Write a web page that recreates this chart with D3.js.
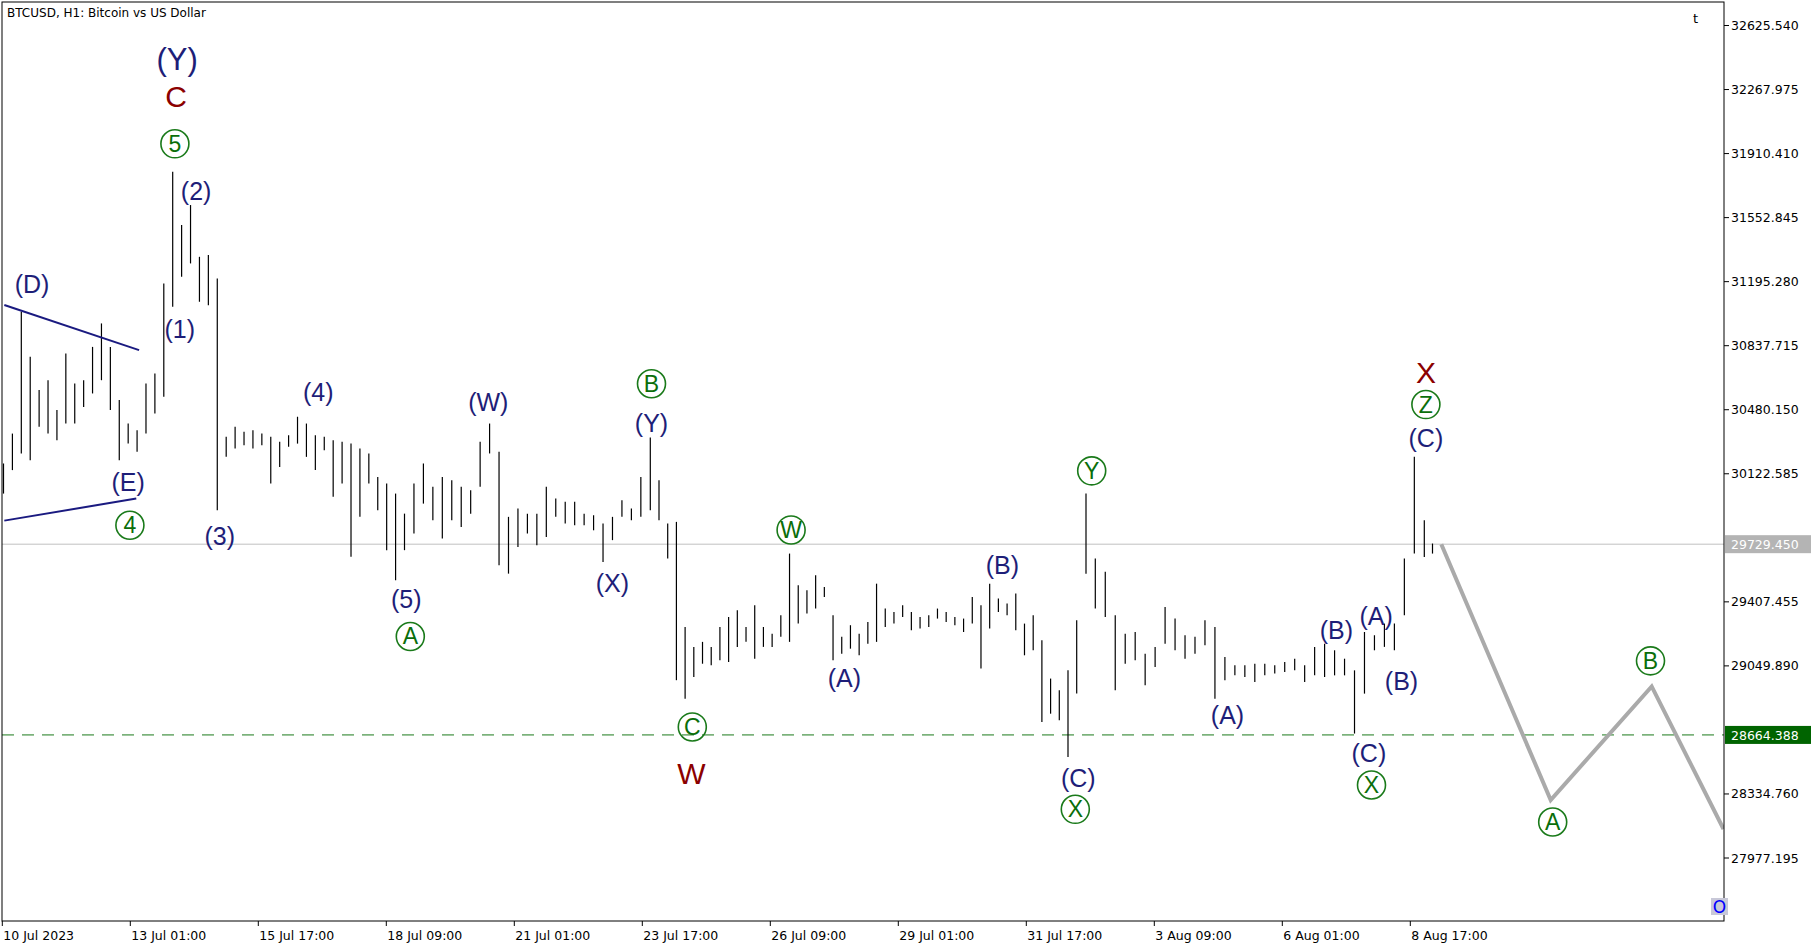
<!DOCTYPE html>
<html><head><meta charset="utf-8">
<script src="https://cdn.jsdelivr.net/npm/d3@7"></script>
<style>body{margin:0;background:#fff}svg{display:block}</style>
</head><body>
<script>
const barHigh=[30180,30347,31027,30776,30590,30645,30478,30794,30627,30645,30831,30962,30831,30534,30403,30366,30627,30682,31185,31809,31511,31623,31334,31344,31213,30329,30385,30357,30366,30347,30329,30301,30338,30441,30403,30338,30329,30310,30301,30291,30264,30236,30105,30068,30012,29900,30068,30180,30050,30105,30087,30050,30031,30301,30403,30245,29882,29928,29900,29900,30050,
29984,29966,29966,29900,29891,29845,29882,29975,29929,30105,30325,30087,29845,29854,29267,29156,29184,29156,29267,29323,29360,29267,29388,29267,29230,29333,29677,29500,29472,29556,29491,29333,29212,29277,29230,29295,29509,29370,29351,29388,29351,29323,29333,29370,29351,29323,29314,29435,29388,29509,29426,29398,29454,29286,29333,29193,28979,28914,29025,29305,
30012,29649,29575,29333,29230,29239,29118,29156,29379,29314,29221,29212,29305,29267,29100,29053,29053,29062,29062,29053,29072,29090,29053,29156,29174,29137,29090,29025,29239,29221,29286,29286,29649,30217,29863,29733];
const barLow=[30012,30143,30236,30198,30385,30347,30310,30403,30403,30496,30571,30645,30478,30198,30291,30245,30347,30459,30552,31055,31222,31297,31083,31064,29919,30217,30264,30282,30264,30282,30068,30161,30273,30291,30217,30143,30254,29994,30068,29659,29882,30068,29919,29696,29528,29696,29789,29956,29863,29761,29863,29826,29900,30050,30236,29612,29565,29714,29789,29724,29770,
29882,29845,29835,29835,29807,29630,29752,29882,29863,29882,29919,29863,29649,28970,28867,28988,29062,29053,29081,29072,29156,29184,29090,29156,29156,29212,29184,29286,29342,29370,29435,29081,29118,29146,29109,29174,29184,29267,29286,29323,29249,29258,29267,29314,29295,29277,29239,29286,29035,29258,29351,29333,29249,29109,29137,28737,28783,28746,28541,28895,
29565,29370,29323,28914,29062,29081,28942,29044,29174,29137,29090,29118,29165,28867,28970,28997,28988,28960,28997,29007,29016,29025,28960,28997,28988,28997,28997,28672,28895,29137,29156,29137,29333,29677,29658,29677];
// time (hours since 10 Jul 09:00) of key bars (swing points)
const anchorBar=[0,19,45,71,120,122,155,157];
const anchorHour=[0.6,85.2,201.1,324,537.2,546.5,711,719.2];
const lastPrice=29729.450, levelPrice=28664.388;
const priceTicks=[32625.540,32267.975,31910.410,31552.845,31195.280,30837.715,30480.150,30122.585,29765.020,29407.455,29049.890,28692.325,28334.760,27977.195];
const timeTicks=["10 Jul 2023","13 Jul 01:00","15 Jul 17:00","18 Jul 09:00","21 Jul 01:00","23 Jul 17:00","26 Jul 09:00","29 Jul 01:00","31 Jul 17:00","3 Aug 09:00","6 Aug 01:00","8 Aug 17:00"];
const timeTickHour=[0,64,128,192,256,320,384,448,512,576,640,704];
const projHour=[719.5,774.2,824.7,860.6], projPrice=[29729,28301,28935,28139];
const triUpper={h:[1,68.4],price:[31065,30813]}, triLower={h:[1,67],price:[29861,29984]};
const labels=[["(Y)",87.4,32438,"n2"],["C",86.9,32231,"r"],["5",86.3,31965,"c"],["(2)",96.9,31700,"n"],["(D)",14.9,31182,"n"],["(1)",88.7,30929,"n"],["(E)",62.9,30075,"n"],["4",63.8,29835,"c"],["(3)",108.7,29777,"n"],["(4)",158,30580,"n"],["(W)",243,30522,"n"],["(5)",202,29421,"n"],["A",204,29214,"c"],["B",324.6,30625,"c"],["(Y)",324.6,30405,"n"],["(X)",305,29511,"n"],["W",394.4,29809,"c"],["C",345,28709,"c"],["W",344.6,28450,"r"],["(A)",421,28981,"n"],["(B)",500,29615,"n"],["Y",544.7,30139,"c"],["(C)",538,28424,"n"],["X",536.5,28249,"c"],["(A)",612.6,28773,"n"],["(B)",667,29253,"n"],["(A)",686.9,29330,"n"],["(B)",699.6,28968,"n"],["(C)",683.3,28566,"n"],["X",684.6,28385,"c"],["(C)",711.8,30321,"n"],["Z",711.8,30509,"c"],["X",711.8,30690,"r"],["B",824.1,29078,"c"],["A",775.2,28178,"c"]];

const W=1818,H=948,L=2,T=2,R=1724,B=921;
const barTime=d3.scaleLinear().domain(anchorBar).range(anchorHour);
const svg=d3.select("body").append("svg").attr("width",W).attr("height",H);
svg.append("clipPath").attr("id","clp").append("rect").attr("x",L).attr("y",T).attr("width",R-L).attr("height",B-T);
const x=d3.scaleLinear().domain([0,860.6]).range([2.3,1723.5]);
const y=d3.scaleLinear().domain([27977.195,32625.54]).range([858,25.5]);
const g=svg.append("g").attr("clip-path","url(#clp)");
g.append("line").attr("x1",L).attr("x2",R).attr("y1",y(lastPrice)).attr("y2",y(lastPrice)).attr("stroke","#c0c0c0");
g.append("line").attr("x1",L).attr("x2",R).attr("y1",y(levelPrice)).attr("y2",y(levelPrice)).attr("stroke","#1a7a1a").attr("stroke-dasharray","12,8");
g.selectAll(".bar").data(barHigh).join("line").attr("x1",(d,i)=>x(barTime(i))).attr("x2",(d,i)=>x(barTime(i)))
 .attr("y1",d=>y(d)).attr("y2",(d,i)=>y(barLow[i])).attr("stroke","#000").attr("stroke-width",1.2);
[triUpper,triLower].forEach(t=>g.append("line").attr("x1",x(t.h[0])).attr("x2",x(t.h[1])).attr("y1",y(t.price[0])).attr("y2",y(t.price[1])).attr("stroke","#1a1a80").attr("stroke-width",2));
g.append("path").attr("d",d3.line()(projHour.map((v,i)=>[x(v),y(projPrice[i])]))).attr("fill","none").attr("stroke","#aaaaaa").attr("stroke-width",4);
labels.forEach(([t,h,p,k])=>{
  const cx=x(h),cy=y(p);
  if(k==="c"){
    g.append("circle").attr("cx",cx).attr("cy",cy).attr("r",14).attr("fill","none").attr("stroke","#1a7a1a").attr("stroke-width",1.6);
    g.append("text").attr("x",cx).attr("y",cy+8).attr("text-anchor","middle").attr("font-family","Liberation Sans").attr("font-size",23).attr("fill","#0a6e0a").text(t);
  } else {
    const fs=k==="n2"?31:k==="r"?30:25;
    g.append("text").attr("x",cx).attr("y",cy+fs*0.36).attr("text-anchor","middle").attr("font-family","Liberation Sans").attr("font-size",fs).attr("fill",k==="r"?"#8b0000":"#1e1e78").text(t);
  }
});
svg.append("rect").attr("x",L).attr("y",T).attr("width",R-L).attr("height",B-T).attr("fill","none").attr("stroke","#000");
const ya=svg.append("g").attr("font-family","DejaVu Sans").attr("font-size",12.5);
priceTicks.forEach(v=>{
  if(Math.abs(y(v)-y(lastPrice))<14||Math.abs(y(v)-y(levelPrice))<14) return; // hidden behind the price boxes
  ya.append("line").attr("x1",R).attr("x2",R+5).attr("y1",y(v)).attr("y2",y(v)).attr("stroke","#000");
  ya.append("text").attr("x",R+7).attr("y",y(v)+4.5).text(v.toFixed(3));
});
[[lastPrice,"#b4b4b4"],[levelPrice,"#006400"]].forEach(([v,c])=>{
  ya.append("rect").attr("x",R+1).attr("y",y(v)-9).attr("width",86).attr("height",18).attr("fill",c);
  ya.append("text").attr("x",R+7).attr("y",y(v)+5).attr("fill","#fff").text(v.toFixed(3));
});
const xa=svg.append("g").attr("font-family","DejaVu Sans").attr("font-size",12.5);
timeTicks.forEach((t,i)=>{
  const px=x(timeTickHour[i]);
  xa.append("line").attr("x1",px).attr("x2",px).attr("y1",B).attr("y2",B+5).attr("stroke","#000");
  xa.append("text").attr("x",px+1).attr("y",B+19).text(t);
});
svg.append("text").attr("x",7).attr("y",17).attr("font-family","DejaVu Sans").attr("font-size",12).text("BTCUSD, H1:  Bitcoin vs US Dollar");
svg.append("text").attr("x",1693).attr("y",23).attr("font-family","DejaVu Sans").attr("font-size",13).text("t");
svg.append("rect").attr("x",1711).attr("y",898).attr("width",17).attr("height",17).attr("fill","#c8c8d8");
svg.append("text").attr("x",1719.5).attr("y",913).attr("text-anchor","middle").attr("font-family","DejaVu Sans").attr("font-size",17).attr("fill","#0000ff").text("O");
</script></body></html>
